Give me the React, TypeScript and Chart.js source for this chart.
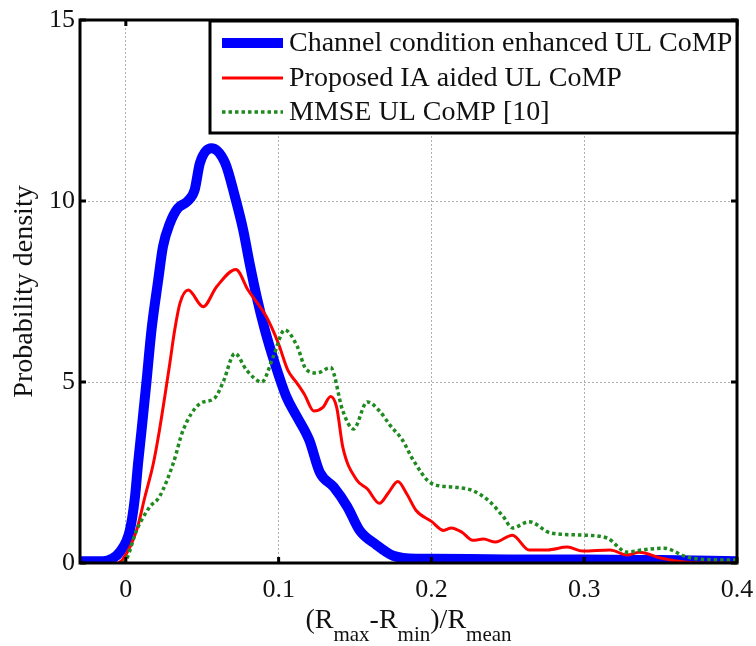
import React, { useEffect, useRef } from "react";
import { Chart, registerables } from "chart.js";

Chart.register(...registerables);

const seriesLabels = [
  "Channel condition enhanced UL CoMP",
  "Proposed IA aided UL CoMP",
  "MMSE UL CoMP [10]",
];

const xTickValues = [0, 0.1, 0.2, 0.3, 0.4];
const yTickValues = [0, 5, 10, 15];

const blueX = [-0.03, -0.015, -0.009, -0.004, 0.0026, 0.006, 0.008, 0.0103, 0.0135, 0.0168, 0.0212, 0.0243, 0.0288, 0.034, 0.04, 0.045, 0.0485, 0.056, 0.065, 0.0714, 0.0768, 0.081, 0.0856, 0.091, 0.0975, 0.105, 0.112, 0.12, 0.127, 0.136, 0.145, 0.153, 0.164, 0.175, 0.19, 0.2, 0.25, 0.3, 0.35, 0.4];
const blueY = [0.05, 0.05, 0.12, 0.3, 0.9, 1.83, 2.75, 3.67, 5.0, 6.44, 7.82, 8.74, 9.38, 9.8, 9.98, 10.3, 11.05, 11.46, 11.05, 10.12, 9.2, 8.28, 7.36, 6.44, 5.52, 4.6, 4.04, 3.4, 2.5, 2.1, 1.55, 0.9, 0.5, 0.2, 0.12, 0.12, 0.1, 0.1, 0.08, 0.05];

const redX = [-0.005, -0.002, 0.007, 0.0125, 0.018, 0.022, 0.0255, 0.0288, 0.032, 0.0354, 0.0408, 0.0506, 0.0594, 0.072, 0.08, 0.092, 0.0998, 0.106, 0.112, 0.117, 0.123, 0.129, 0.134, 0.138, 0.142, 0.151, 0.158, 0.166, 0.172, 0.178, 0.184, 0.19, 0.2, 0.208, 0.213, 0.22, 0.227, 0.234, 0.242, 0.253, 0.264, 0.276, 0.289, 0.299, 0.317, 0.328, 0.336, 0.35, 0.367, 0.38, 0.4];
const redY = [0, 0.1, 0.9, 1.83, 2.75, 3.67, 4.6, 5.52, 6.44, 7.17, 7.54, 7.08, 7.63, 8.11, 7.54, 6.8, 6.07, 5.33, 4.97, 4.65, 4.2, 4.3, 4.6, 4.3, 3.2, 2.3, 2.05, 1.65, 1.95, 2.25, 1.9, 1.45, 1.15, 0.9, 0.97, 0.85, 0.63, 0.66, 0.58, 0.77, 0.36, 0.36, 0.44, 0.33, 0.36, 0.22, 0.3, 0.14, 0.02, 0, 0];

const greenX = [-0.002, 0.0004, 0.007, 0.0157, 0.022, 0.031, 0.0375, 0.0485, 0.058, 0.0637, 0.0714, 0.079, 0.0889, 0.0965, 0.104, 0.112, 0.118, 0.125, 0.134, 0.142, 0.149, 0.158, 0.166, 0.173, 0.181, 0.188, 0.2, 0.214, 0.227, 0.238, 0.247, 0.253, 0.264, 0.278, 0.299, 0.315, 0.328, 0.338, 0.352, 0.367, 0.378, 0.4];
const greenY = [0, 0.1, 0.9, 1.55, 1.83, 2.75, 3.67, 4.4, 4.55, 5.0, 5.79, 5.33, 5.0, 5.7, 6.44, 6.0, 5.35, 5.25, 5.4, 4.2, 3.7, 4.45, 4.2, 3.8, 3.4, 2.85, 2.2, 2.1, 2.0, 1.7, 1.28, 0.97, 1.14, 0.83, 0.77, 0.69, 0.3, 0.36, 0.41, 0.17, 0.1, 0.08];

const FONT = "'Liberation Serif', 'Times New Roman', serif";

const toPoints = (xs: number[], ys: number[]) => xs.map((x, i) => ({ x, y: ys[i] }));

const framePlugin = {
  id: "frame",
  afterDatasetsDraw(chart: any) {
    const { ctx, chartArea: a, scales } = chart;
    ctx.save();
    ctx.strokeStyle = "#000";
    ctx.lineWidth = 3;
    ctx.lineCap = "butt";
    xTickValues.forEach((t) => {
      const px = scales.x.getPixelForValue(t);
      ctx.beginPath();
      ctx.moveTo(px, a.bottom);
      ctx.lineTo(px, a.bottom - 6);
      ctx.moveTo(px, a.top);
      ctx.lineTo(px, a.top + 6);
      ctx.stroke();
    });
    yTickValues.forEach((t) => {
      const py = scales.y.getPixelForValue(t);
      ctx.beginPath();
      ctx.moveTo(a.left, py);
      ctx.lineTo(a.left + 6, py);
      ctx.moveTo(a.right, py);
      ctx.lineTo(a.right - 6, py);
      ctx.stroke();
    });
    ctx.strokeRect(a.left, a.top, a.right - a.left, a.bottom - a.top);

    // legend box
    const bx = 210, by = 21, bw = a.right - 210, bh = 112;
    ctx.fillStyle = "#fff";
    ctx.fillRect(bx, by, bw, bh);
    ctx.lineWidth = 3;
    ctx.strokeRect(bx, by, bw, bh);
    const rows = [43, 78, 112];
    chart.data.datasets.forEach((ds: any, i: number) => {
      const y = rows[i];
      ctx.save();
      ctx.strokeStyle = ds.borderColor;
      ctx.lineWidth = ds.borderWidth;
      ctx.setLineDash(ds.borderDash || []);
      ctx.beginPath();
      ctx.moveTo(222, y);
      ctx.lineTo(283, y);
      ctx.stroke();
      ctx.restore();
      ctx.fillStyle = "#111";
      ctx.font = `28px ${FONT}`;
      ctx.textBaseline = "middle";
      ctx.textAlign = "left";
      ctx.fillText(ds.label, 289, y + 1);
    });

    // x axis title with subscripts
    const parts: [string, boolean][] = [
      ["(R", false], ["max", true], ["-R", false], ["min", true], [")/R", false], ["mean", true],
    ];
    const mainFont = `28px ${FONT}`;
    const subFont = `21px ${FONT}`;
    let total = 0;
    parts.forEach(([s, sub]) => {
      ctx.font = sub ? subFont : mainFont;
      total += ctx.measureText(s).width;
    });
    let x = (a.left + a.right) / 2 - total / 2;
    const baseY = 628;
    ctx.fillStyle = "#111";
    ctx.textAlign = "left";
    ctx.textBaseline = "alphabetic";
    parts.forEach(([s, sub]) => {
      ctx.font = sub ? subFont : mainFont;
      ctx.fillText(s, x, sub ? baseY + 13 : baseY);
      x += ctx.measureText(s).width;
    });
    ctx.restore();
  },
};

export default function App() {
  const ref = useRef<HTMLCanvasElement | null>(null);
  useEffect(() => {
    if (!ref.current) return;
    const chart = new Chart(ref.current, {
      type: "line",
      data: {
        datasets: [
          {
            label: seriesLabels[0],
            data: toPoints(blueX, blueY),
            borderColor: "#0000ff",
            borderWidth: 10,
            pointRadius: 0,
            cubicInterpolationMode: "monotone",
            order: 2,
            fill: false,
          },
          {
            label: seriesLabels[1],
            data: toPoints(redX, redY),
            borderColor: "#ff0000",
            borderWidth: 3,
            pointRadius: 0,
            cubicInterpolationMode: "monotone",
            order: 1,
            fill: false,
          },
          {
            label: seriesLabels[2],
            data: toPoints(greenX, greenY),
            borderColor: "#1f8a1f",
            borderWidth: 3.5,
            borderDash: [3.5, 3],
            pointRadius: 0,
            cubicInterpolationMode: "monotone",
            order: 0,
            fill: false,
          },
        ],
      },
      options: {
        animation: false,
        responsive: false,
        maintainAspectRatio: false,
        layout: { padding: { left: 0, right: 19, top: 20, bottom: 0 } },
        plugins: {
          legend: { display: false },
          tooltip: { enabled: false },
        },
        scales: {
          x: {
            type: "linear",
            min: -0.03,
            max: 0.4,
            afterBuildTicks: (s: any) => {
              s.ticks = xTickValues.map((v) => ({ value: v }));
            },
            afterFit: (s: any) => {
              s.height = 83;
              s.paddingLeft = 0;
              s.paddingRight = 0;
            },
            border: { display: false, dash: [2, 2] },
            grid: {
              color: "#b0b0b0",
              lineWidth: 1,
              drawTicks: false,
            },
            ticks: {
              color: "#111",
              font: { family: FONT, size: 26 },
              padding: 12,
              maxRotation: 0,
              callback: (v: any) => String(Number(v)),
            },
          },
          y: {
            type: "linear",
            min: 0,
            max: 15,
            afterBuildTicks: (s: any) => {
              s.ticks = yTickValues.map((v) => ({ value: v }));
            },
            afterFit: (s: any) => {
              s.width = 80;
              s.paddingTop = 0;
              s.paddingBottom = 0;
            },
            border: { display: false, dash: [2, 2] },
            grid: {
              color: "#b0b0b0",
              lineWidth: 1,
              drawTicks: false,
            },
            ticks: {
              color: "#111",
              font: { family: FONT, size: 26 },
              padding: 5,
              callback: (v: any) => String(Number(v)),
            },
            title: {
              display: true,
              text: "Probability density",
              color: "#111",
              font: { family: FONT, size: 28 },
              padding: { top: 8, bottom: 0 },
            },
          },
        },
      } as any,
      plugins: [framePlugin],
    });
    return () => chart.destroy();
  }, []);
  return (
    <div style={{ position: "fixed", left: 0, top: 0, width: 756, height: 646, background: "#fff" }}>
      <canvas ref={ref} width={756} height={646} style={{ width: 756, height: 646 }} />
    </div>
  );
}
